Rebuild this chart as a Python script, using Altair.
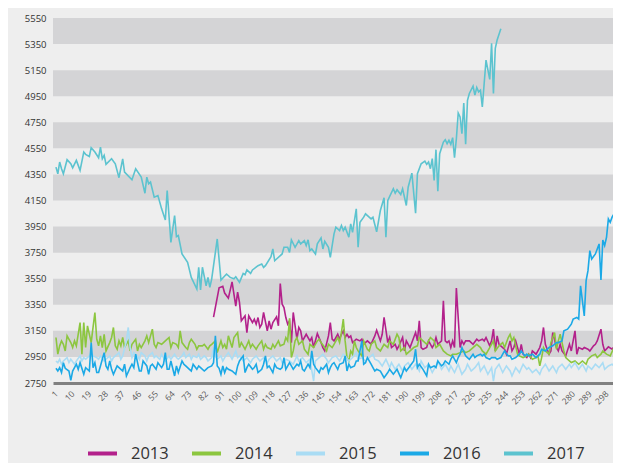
import altair as alt
import pandas as pd

years = ["2013", "2014", "2015", "2016", "2017"]
colors = ["#b3218b", "#8cc63f", "#a9dcf4", "#1ba9e6", "#5cc3cf"]

x_ticks = [1, 10, 19, 28, 37, 46, 55, 64, 73, 82, 91, 100, 109, 118, 127, 136, 145, 154,
           163, 172, 181, 190, 199, 208, 217, 226, 235, 244, 253, 262, 271, 280, 289, 298]
y_ticks = [2750, 2950, 3150, 3350, 3550, 3750, 3950, 4150, 4350, 4550, 4750, 4950, 5150, 5350, 5550]
band_lo = [2950, 3350, 3750, 4150, 4550, 4950, 5350]
band_hi = [3150, 3550, 3950, 4350, 4750, 5150, 5550]

s2013 = [(86,3255),(89,3480),(91,3492),(92,3440),(94,3401),(96,3525),(98,3340),(99,3447),(100,3368),(101,3227),(103,3265),(104,3137),(105,3265),(107,3214),(108,3240),(109,3201),(110,3252),(111,3176),(112,3201),(113,3291),(115,3150),(116,3227),(117,3163),(118,3214),(120,3258),(121,3189),(122,3513),(123,3355),(124,3329),(125,3252),(126,3201),(127,3227),(128,3060),(129,3291),(131,3086),(132,3176),(133,3150),(134,3073),(136,3124),(138,3073),(139,3099),(140,3022),(142,3129),(144,3060),(145,3022),(146,2996),(148,3111),(149,3214),(150,3086),(151,3073),(153,3124),(154,3086),(155,3124),(156,3150),(157,3099),(158,3124),(159,3099),(160,3111),(161,3060),(163,3086),(165,3073),(166,3086),(167,3048),(169,3073),(171,3048),(173,3111),(174,3155),(176,3073),(177,3124),(178,3253),(180,3060),(181,3099),(182,3022),(184,3047),(185,3009),(186,3035),(188,3099),(189,2996),(190,3073),(192,3022),(194,3099),(195,3137),(196,3073),(197,3227),(198,3022),(199,3009),(201,3022),(202,3073),(204,3022),(205,3047),(206,3099),(207,3047),(209,3073),(210,3381),(211,3073),(212,3060),(213,3073),(214,3022),(215,3073),(216,3022),(217,3478),(219,3022),(220,3073),(221,3047),(222,3073),(224,3073),(226,3047),(228,3086),(229,3073),(231,3086),(232,3073),(233,3099),(235,3035),(236,3073),(237,3163),(238,2996),(239,3112),(240,3047),(242,3022),(243,3009),(244,2971),(246,3073),(247,2996),(248,3022),(249,3073),(251,2971),(252,3047),(253,2971),(255,2945),(256,2971),(257,2945),(258,2996),(260,2971),(262,3022),(263,3073),(264,3176),(265,3047),(267,2971),(268,2996),(269,3137),(271,3022),(272,2996),(273,3047),(274,2996),(276,2958),(278,3047),(279,2996),(281,3150),(282,2971),(283,3022),(285,3009),(286,3022),(288,3009),(289,2996),(291,3035),(292,3047),(293,3073),(295,3163),(296,3047),(297,2996),(299,3027),(301,3009),(302,3027)]

s2014 = [(1,3099),(2,2971),(3,3035),(4,3073),(5,3047),(6,2996),(7,3112),(9,3060),(10,3022),(11,3073),(12,3035),(14,3214),(15,2971),(16,3214),(17,3022),(18,3188),(20,3060),(21,3176),(22,3291),(23,3086),(24,3035),(25,3112),(26,3022),(27,3124),(28,2996),(30,3060),(31,3099),(32,3176),(33,3035),(34,3009),(35,3073),(36,3035),(37,3099),(38,3022),(40,3073),(41,2996),(42,3047),(44,3086),(45,2996),(46,3047),(47,3022),(49,3073),(50,3112),(51,3060),(53,3163),(54,3047),(55,3022),(56,3060),(58,3047),(59,3060),(60,3073),(62,3099),(63,3022),(64,3060),(66,3047),(67,3022),(68,3150),(69,3060),(71,3022),(72,3009),(73,3060),(74,3086),(76,3047),(77,3009),(78,3035),(80,3035),(81,3047),(83,3009),(84,3035),(85,3047),(87,3073),(88,2983),(90,3073),(91,3022),(92,3047),(93,3009),(94,3112),(96,3022),(97,3099),(99,3137),(100,3022),(101,3060),(102,3035),(103,3009),(105,3073),(106,3022),(107,3047),(109,3009),(110,3035),(112,3073),(113,3009),(114,3047),(115,3022),(117,3009),(118,3047),(119,3022),(121,3073),(122,3035),(124,3047),(125,3099),(126,3073),(127,3247),(128,2945),(129,2996),(130,3073),(131,3099),(132,3047),(134,3073),(135,3009),(137,2971),(138,3047),(139,3035),(140,3022),(142,3073),(143,3086),(144,3060),(146,3022),(147,2996),(148,3047),(150,3022),(151,3047),(153,3099),(154,3060),(155,3137),(156,3240),(157,3073),(158,2945),(159,2919),(160,2996),(161,2971),(162,3073),(163,3022),(164,2996),(166,2958),(167,3073),(169,3009),(170,2996),(171,3047),(173,3073),(174,3022),(176,2996),(178,3047),(180,3022),(181,3073),(183,3047),(185,3124),(186,3099),(187,2996),(189,3022),(190,2971),(192,2996),(194,3022),(196,3035),(197,3099),(199,3073),(201,3047),(202,3073),(203,3099),(205,3073),(206,3022),(208,3047),(210,2996),(212,2971),(214,2958),(215,2971),(217,2971),(219,2983),(221,2996),(222,2983),(224,2996),(226,3022),(228,3047),(230,3022),(231,2996),(233,2971),(235,3022),(237,3073),(238,2996),(240,3035),(242,3060),(243,3022),(245,3099),(246,3124),(247,3073),(248,3099),(250,2971),(251,2958),(253,2945),(255,2958),(256,2971),(258,2932),(260,2945),(261,2958),(262,2881),(263,2945),(264,3022),(265,2996),(267,2971),(268,3060),(270,3137),(271,3009),(272,3073),(273,3124),(275,2996),(276,2945),(278,2919),(279,2907),(281,2919),(283,2894),(285,2919),(287,2894),(288,2932),(290,2958),(292,2971),(293,2945),(295,2971),(296,2996),(298,2971),(300,2958),(302,3022),(303,3035)]

s2015 = [(1,2919),(2,2906),(3,2932),(4,2894),(5,2919),(7,2945),(8,2906),(9,2932),(11,2894),(12,2919),(14,2958),(15,2919),(16,2945),(17,2932),(19,2958),(20,2983),(21,2958),(23,2945),(24,2932),(25,2958),(27,2919),(28,2932),(30,2958),(31,2919),(32,2945),(33,2958),(35,2983),(36,2932),(37,2958),(39,3073),(40,3176),(41,3022),(42,2945),(43,2983),(45,2958),(46,2932),(47,2983),(49,2958),(50,2919),(51,2958),(53,2983),(54,2945),(55,2958),(57,2932),(58,2971),(59,2945),(60,2919),(62,2958),(63,2932),(65,2971),(66,2945),(67,2932),(69,2958),(70,2983),(71,2945),(73,2971),(74,2932),(75,2958),(77,2945),(78,2971),(79,2932),(81,2958),(82,2945),(83,2919),(85,2945),(86,3022),(87,2958),(88,2932),(90,2958),(91,2919),(92,2945),(94,2983),(95,2958),(96,2932),(98,2996),(99,2945),(100,2958),(102,2919),(104,2945),(106,2906),(107,2932),(109,2958),(111,2919),(113,2945),(115,2906),(116,2932),(118,2958),(120,2919),(122,2945),(123,2906),(125,2932),(127,2919),(129,2894),(131,2958),(132,2919),(134,2945),(136,2906),(138,2932),(140,2765),(141,2919),(143,2945),(145,2971),(147,2932),(148,2906),(150,2945),(152,2958),(154,2919),(156,2971),(157,2958),(159,2919),(161,2945),(163,2983),(164,2932),(166,2945),(168,2919),(170,2945),(172,2971),(173,2932),(175,2919),(177,2881),(179,2932),(181,2868),(182,2906),(184,2855),(186,2894),(188,2842),(189,2881),(191,2906),(193,2855),(195,2894),(197,2842),(198,2919),(200,2868),(202,2894),(204,2830),(206,2881),(207,2919),(209,2855),(211,2894),(213,2842),(214,2881),(216,2830),(218,2894),(220,2817),(222,2855),(223,2894),(225,2842),(227,2868),(229,2906),(230,2842),(232,2881),(234,2817),(236,2868),(237,2765),(238,2855),(240,2894),(242,2830),(244,2881),(246,2842),(247,2804),(249,2868),(251,2830),(253,2894),(255,2855),(256,2868),(258,2830),(260,2855),(262,2817),(263,2855),(265,2894),(267,2842),(269,2881),(271,2830),(272,2868),(274,2894),(276,2855),(278,2894),(279,2868),(281,2906),(283,2855),(285,2894),(287,2842),(288,2881),(290,2855),(292,2894),(294,2868),(296,2906),(297,2855),(299,2881),(301,2894),(303,2868)]

s2016 = [(1,2863),(2,2842),(3,2868),(4,2830),(5,2906),(6,2863),(8,2842),(9,2770),(10,2842),(12,2894),(13,2855),(14,2906),(16,2817),(17,2868),(19,2842),(20,3060),(21,2868),(22,2906),(23,2830),(24,2830),(25,2881),(27,2983),(28,2881),(29,2855),(30,2919),(31,2855),(32,2817),(34,2881),(35,2868),(37,2842),(38,2894),(39,2804),(41,2868),(42,2894),(43,2868),(44,2971),(46,2842),(47,2842),(48,2919),(50,2881),(51,2817),(52,2881),(53,2894),(55,2855),(56,2906),(58,2868),(59,2894),(60,2983),(61,2855),(62,2855),(63,2919),(65,2804),(66,2881),(67,2830),(69,2919),(70,2894),(71,2881),(73,2855),(74,2842),(75,2894),(77,2855),(78,2881),(79,2868),(81,2842),(82,2855),(83,2868),(85,2881),(86,2906),(87,3112),(88,2881),(89,2863),(90,2817),(91,2881),(92,2830),(93,2868),(94,2855),(96,2842),(98,2817),(99,2881),(100,2919),(102,2958),(103,2830),(104,2868),(105,2894),(107,2855),(108,2868),(109,2894),(110,2830),(112,2855),(113,2894),(114,2958),(115,2868),(116,2881),(118,2830),(119,2894),(120,2868),(122,2855),(123,2868),(124,2945),(125,2855),(127,2906),(128,2881),(129,2855),(131,2894),(132,2881),(133,2919),(134,2855),(135,2842),(137,2894),(138,2868),(139,2996),(140,2894),(141,2868),(143,2830),(144,2868),(145,2855),(147,2894),(148,2830),(149,2868),(150,2894),(151,2906),(153,2855),(154,2894),(156,2906),(157,2958),(158,2842),(159,2894),(160,2868),(162,2881),(163,2919),(164,2919),(166,3073),(167,2894),(168,2906),(169,2945),(171,2894),(172,2868),(173,2842),(174,2855),(176,2842),(178,2791),(180,2830),(181,2855),(183,2817),(185,2855),(187,2791),(189,2868),(190,2842),(192,2881),(194,2919),(195,3009),(196,2868),(197,2894),(199,2855),(201,2804),(202,2894),(203,2868),(205,2881),(206,2868),(207,2919),(209,2881),(210,2894),(211,2919),(213,2894),(214,2932),(215,2958),(217,2906),(218,2945),(219,2971),(220,3022),(222,2958),(223,2945),(224,2932),(226,2971),(227,2945),(228,2958),(230,2971),(231,2958),(232,2971),(233,2945),(235,2932),(236,2945),(238,2945),(239,2932),(241,2945),(242,2971),(243,2996),(245,2958),(246,2958),(247,2932),(249,2945),(250,2958),(251,2971),(252,2996),(254,2958),(255,2971),(256,2958),(258,2971),(260,2945),(262,2971),(263,3009),(265,2996),(267,3022),(269,3035),(271,3060),(272,3060),(274,3073),(275,3150),(277,3163),(279,3201),(280,3240),(282,3253),(283,3240),(284,3496),(286,3265),(287,3535),(288,3612),(289,3765),(290,3701),(292,3740),(293,3778),(294,3817),(295,3540),(296,3847),(297,3804),(298,3868),(299,4009),(300,3983),(301,4022),(302,4047),(303,4099)]

s2017 = [(1,4406),(2,4355),(3,4445),(4,4394),(5,4355),(7,4463),(9,4432),(10,4401),(12,4458),(14,4381),(16,4522),(17,4504),(19,4488),(20,4555),(22,4522),(24,4478),(25,4560),(26,4470),(27,4496),(28,4427),(31,4470),(33,4432),(35,4325),(37,4470),(38,4368),(42,4309),(44,4394),(47,4329),(49,4206),(50,4329),(51,4278),(52,4291),(54,4175),(56,4188),(58,4086),(60,4001),(61,4227),(63,3829),(65,4035),(66,3873),(67,3881),(69,3740),(72,3675),(74,3560),(77,3471),(78,3638),(79,3463),(80,3638),(82,3496),(83,3560),(84,3483),(85,3547),(88,3855),(90,3540),(93,3586),(95,3560),(97,3550),(98,3565),(100,3522),(102,3591),(103,3581),(104,3617),(106,3591),(107,3617),(110,3650),(112,3663),(113,3637),(114,3650),(117,3719),(118,3778),(119,3688),(120,3701),(123,3740),(124,3791),(126,3791),(127,3752),(128,3848),(130,3791),(132,3842),(133,3817),(135,3842),(136,3804),(137,3848),(138,3765),(139,3778),(141,3740),(142,3817),(144,3863),(145,3778),(146,3837),(148,3791),(149,3714),(151,3894),(152,3945),(154,3919),(155,3958),(156,3919),(157,3945),(159,3868),(160,3971),(161,3906),(163,4086),(164,3791),(165,3983),(167,4022),(168,4048),(171,4009),(172,4022),(174,3910),(176,4073),(178,4171),(179,3868),(180,4150),(183,4240),(184,4206),(185,4232),(187,4196),(188,4240),(190,4112),(191,4252),(193,4360),(195,4052),(196,4355),(198,4432),(200,4452),(201,4427),(202,4445),(203,4394),(204,4471),(205,4304),(206,4540),(207,4222),(208,4509),(210,4598),(211,4616),(212,4586),(213,4612),(214,4581),(215,4632),(216,4478),(217,4624),(218,4821),(219,4791),(220,4663),(221,4898),(222,4581),(223,4919),(224,4971),(226,5027),(227,4958),(228,5017),(229,4983),(230,4996),(231,4868),(232,5048),(233,5227),(235,5079),(236,5356),(237,4971),(238,5318),(239,5382),(241,5468)]

series = {"2013": s2013, "2014": s2014, "2015": s2015, "2016": s2016, "2017": s2017}

rows = []
for yr, pts in series.items():
    for i, (d, v) in enumerate(pts):
        rows.append({"year": yr, "day": d, "value": v, "i": i})
df = pd.DataFrame(rows)
bands = pd.DataFrame({"lo": band_lo, "hi": band_hi})

W = 560
H = 365
FONT = "Open Sans"

yscale = alt.Scale(domain=[2750, 5550], nice=False, zero=False)
xscale = alt.Scale(domain=[-0.6, 301.5], nice=False, zero=False)

y_axis = alt.Axis(values=y_ticks, format="d", labelFontSize=9.5, labelFont=FONT,
                  labelColor="#333333", labelPadding=7, ticks=False, tickSize=0,
                  grid=False, domain=False, labelOverlap=False, title=None)

band_layer = alt.Chart(bands).mark_rect(color="#d4d4d6").encode(
    y=alt.Y("lo:Q", scale=yscale, axis=y_axis),
    y2="hi:Q",
    x=alt.value(0),
    x2=alt.value(W),
)

line_layer = alt.Chart(df).mark_line(strokeWidth=1.6, clip=True).encode(
    x=alt.X("day:Q", scale=xscale, title=None,
            axis=alt.Axis(values=x_ticks, labelAngle=315, labelAlign="right",
                          labelBaseline="middle", labelFontSize=8.5, labelFont=FONT,
                          labelColor="#555555", labelPadding=9, ticks=False, tickSize=0,
                          grid=False, domain=True, domainColor="#808080", domainWidth=3,
                          labelOverlap=False)),
    y=alt.Y("value:Q", scale=yscale, title=None, axis=y_axis),
    color=alt.Color("year:N", scale=alt.Scale(domain=years, range=colors),
                    legend=alt.Legend(orient="none", legendX=33, legendY=419,
                                      direction="horizontal", title=None,
                                      symbolType="stroke", symbolStrokeWidth=4,
                                      symbolSize=841, labelFontSize=16.5, labelFont=FONT,
                                      labelColor="#333333", labelOffset=12,
                                      columnPadding=15, padding=0)),
    order=alt.Order("i:Q"),
)

chart = alt.layer(band_layer, line_layer).properties(
    width=W, height=H,
    background="#eeeeee",
    padding={"left": 45, "top": 10, "right": 0, "bottom": 80},
    autosize=alt.AutoSizeParams(type="none"),
).configure_view(stroke=None)

chart.save("out.html", embed_options={"renderer": "svg", "actions": False})
